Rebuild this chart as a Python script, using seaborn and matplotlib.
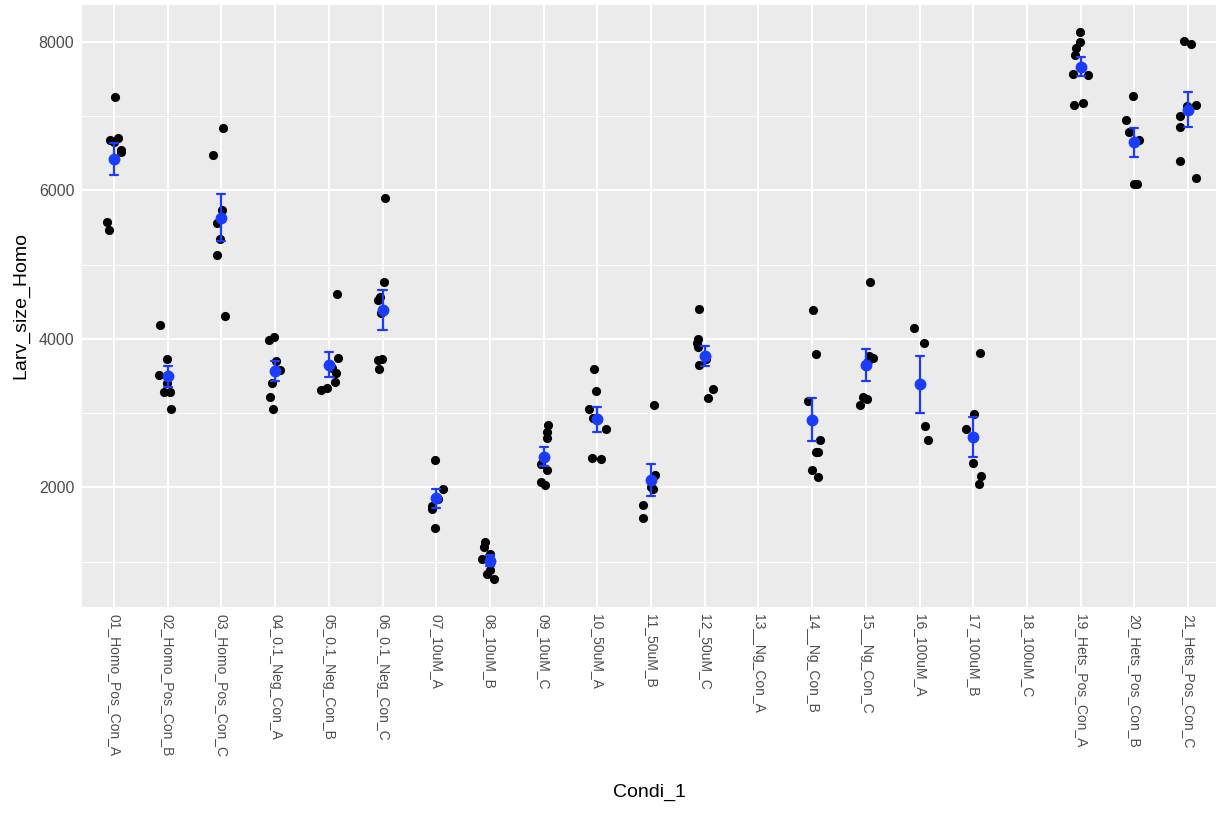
import numpy as np
import pandas as pd
import matplotlib
matplotlib.use('Agg')
import matplotlib.pyplot as plt
from matplotlib.ticker import MultipleLocator
import seaborn as sns

# condition order on the x axis (13 and 18 have no measurements)
conditions = ['01_Homo_Pos_Con_A', '02_Homo_Pos_Con_B', '03_Homo_Pos_Con_C',
              '04_0.1_Neg_Con_A', '05_0.1_Neg_Con_B', '06_0.1_Neg_Con_C',
              '07_10uM_A', '08_10uM_B', '09_10uM_C',
              '10_50uM_A', '11_50uM_B', '12_50uM_C',
              '13__Ng_Con_A', '14__Ng_Con_B', '15__Ng_Con_C',
              '16_100uM_A', '17_100uM_B', '18_100uM_C',
              '19_Hets_Pos_Con_A', '20_Hets_Pos_Con_B', '21_Hets_Pos_Con_C']

# larva sizes
homo_pos_a = [7260, 6700, 6680, 6650, 6540, 6520, 5570, 5460]
homo_pos_b = [4190, 3730, 3520, 3400, 3290, 3290, 3050]
homo_pos_c = [6840, 6480, 5740, 5560, 5350, 5135, 4310]
neg_a = [4030, 3990, 3700, 3580, 3400, 3220, 3060]
neg_b = [4606, 3745, 3611, 3544, 3422, 3342, 3310]
neg_c = [5892, 4762, 4566, 4520, 4350, 3722, 3710, 3588]
uM10_a = [2368, 1974, 1850, 1750, 1715, 1459]
uM10_b = [1271, 1203, 1109, 1040, 884, 830, 763]
uM10_c = [2843, 2750, 2660, 2310, 2230, 2073, 2032]
uM50_a = [3588, 3297, 3059, 2938, 2781, 2395, 2377]
uM50_b = [3104, 2162, 2000, 1983, 1759, 1593]
uM50_c = [4404, 4000, 3950, 3893, 3722, 3642, 3319, 3207]
ng_b = [4391, 3799, 3162, 2642, 2476, 2476, 2233, 2135]
ng_c = [4762, 3767, 3745, 3700, 3216, 3193, 3108]
uM100_a = [4140, 3947, 2826, 2638]
uM100_b = [3812, 2982, 2785, 2324, 2148, 2044]
hets_pos_a = [8125, 7996, 7915, 7825, 7565, 7555, 7175, 7148]
hets_pos_b = [7274, 6951, 6780, 6680, 6090, 6083]
hets_pos_c = [8004, 7973, 7153, 7140, 6995, 6852, 6390, 6166]

groups = {
    '01_Homo_Pos_Con_A': homo_pos_a, '02_Homo_Pos_Con_B': homo_pos_b,
    '03_Homo_Pos_Con_C': homo_pos_c, '04_0.1_Neg_Con_A': neg_a,
    '05_0.1_Neg_Con_B': neg_b, '06_0.1_Neg_Con_C': neg_c,
    '07_10uM_A': uM10_a, '08_10uM_B': uM10_b, '09_10uM_C': uM10_c,
    '10_50uM_A': uM50_a, '11_50uM_B': uM50_b, '12_50uM_C': uM50_c,
    '14__Ng_Con_B': ng_b, '15__Ng_Con_C': ng_c,
    '16_100uM_A': uM100_a, '17_100uM_B': uM100_b,
    '19_Hets_Pos_Con_A': hets_pos_a, '20_Hets_Pos_Con_B': hets_pos_b,
    '21_Hets_Pos_Con_C': hets_pos_c,
}
df = pd.DataFrame([(k, v) for k, vals in groups.items() for v in vals],
                  columns=['Condi_1', 'Larv_size_Homo'])

# ggplot-like theme
sns.set_theme(style='darkgrid', rc={
    'axes.facecolor': '#EBEBEB',
    'grid.color': 'white',
    'axes.edgecolor': '#EBEBEB',
})
plt.rcParams['font.family'] = ['Liberation Sans', 'DejaVu Sans']

fig = plt.figure(figsize=(12.16, 8.13), dpi=100)
ax = fig.add_axes([82 / 1216, 1 - 606.7 / 813, 1134 / 1216, 601.7 / 813])

np.random.seed(3)
sns.stripplot(data=df, x='Condi_1', y='Larv_size_Homo', order=conditions,
              color='black', jitter=0.17, size=6.6, linewidth=0, ax=ax, zorder=3)
sns.pointplot(data=df, x='Condi_1', y='Larv_size_Homo', order=conditions,
              errorbar='se', linestyle='none', color='#1a3cff', markers='o',
              markersize=6.5, capsize=0.15, err_kws={'linewidth': 1.6}, ax=ax)
for coll in ax.collections:
    coll.set_zorder(3)
for ln in ax.lines:
    ln.set_zorder(4)

ymin, ymax = df['Larv_size_Homo'].min(), df['Larv_size_Homo'].max()
pad = (ymax - ymin) * 0.05
ax.set_ylim(ymin - pad, ymax + pad)
ax.set_xlim(-0.596, 20.52)

ax.yaxis.set_major_locator(MultipleLocator(2000))
ax.yaxis.set_minor_locator(MultipleLocator(1000))
ax.grid(True, which='major', color='white', linewidth=1.4)
ax.yaxis.grid(True, which='minor', color='white', linewidth=0.7)
ax.xaxis.grid(True, which='major', color='white', linewidth=1.4)
ax.set_axisbelow(True)
for s in ax.spines.values():
    s.set_visible(False)

ax.tick_params(axis='both', which='major', length=3, width=1.0, color='#333333',
               labelcolor='#4D4D4D', labelsize=11.5, pad=2.5)
ax.tick_params(axis='x', which='major', labelsize=10)
ax.tick_params(axis='y', which='minor', length=0)
ax.set_xticks(range(len(conditions)))
ax.set_xticklabels(conditions, rotation=270, ha='center', va='top')

ax.set_xlabel('Condi_1', fontsize=14, color='black')
ax.set_ylabel('Larv_size_Homo', fontsize=14, color='black')
ax.xaxis.set_label_coords(0.5, -0.2947)
ax.yaxis.set_label_coords(-0.046, 0.5)

fig.savefig('out.png', dpi=100)
plt.close(fig)
